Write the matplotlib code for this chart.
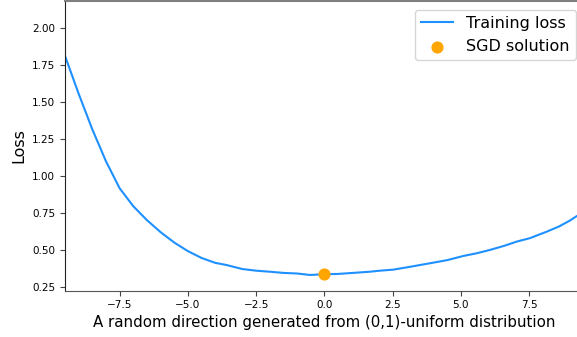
import matplotlib
matplotlib.use("Agg")
import matplotlib.pyplot as plt

# Loss along a random direction around the SGD solution
direction = [-9.5, -9.0, -8.5, -8.0, -7.5, -7.0, -6.5, -6.0, -5.5, -5.0,
             -4.5, -4.0, -3.58, -3.0, -2.5, -2.0, -1.5, -1.0, -0.52, 0.0,
             0.5, 1.05, 1.67, 2.04, 2.53, 3.2, 3.87, 4.5, 5.09, 5.6,
             6.07, 6.6, 7.05, 7.53, 8.15, 8.6, 9.0, 9.5]
loss = [1.81, 1.555, 1.315, 1.10, 0.918, 0.797, 0.703, 0.622, 0.552, 0.494,
        0.448, 0.415, 0.400, 0.373, 0.362, 0.355, 0.347, 0.343, 0.333, 0.338,
        0.340, 0.347, 0.355, 0.362, 0.369, 0.390, 0.412, 0.433, 0.461, 0.480,
        0.502, 0.530, 0.558, 0.581, 0.625, 0.660, 0.700, 0.760]
sgd_x = [0.0]
sgd_y = [0.34]

fig = plt.figure(figsize=(5.77, 3.37), dpi=100)
ax = fig.add_axes([65 / 577, (337 - 290.7) / 337, (583.6 - 65) / 577, 289.7 / 337])

ax.plot(direction, loss, color="#1E90FF", lw=1.5, label="Training loss")
ax.scatter(sgd_x, sgd_y, s=60, color="orange", zorder=3, label="SGD solution")

ax.set_xlim(-9.5, 9.5)
ax.set_ylim(0.227, 2.18)
ax.set_xticks([-7.5, -5.0, -2.5, 0.0, 2.5, 5.0, 7.5])
ax.set_yticks([0.25, 0.50, 0.75, 1.00, 1.25, 1.50, 1.75, 2.00])
ax.set_yticklabels(["0.25", "0.50", "0.75", "1.00", "1.25", "1.50", "1.75", "2.00"])
ax.tick_params(labelsize=7.5, length=3.5, color="#444444")
ax.spines["top"].set_color("#808080")
ax.spines["top"].set_linewidth(1.5)
ax.spines["left"].set_color("#222222")
ax.spines["bottom"].set_color("#555555")

ax.set_xlabel("A random direction generated from (0,1)-uniform distribution", fontsize=10.8, labelpad=3)
ax.set_ylabel("Loss", fontsize=11.5)
ax.legend(loc="upper right", fontsize=11.5, scatterpoints=1,
          bbox_to_anchor=((576 - 65) / (583.6 - 65), 1 - 8.5 / 289.7),
          borderaxespad=0.0)

fig.savefig("out.png", dpi=100)
